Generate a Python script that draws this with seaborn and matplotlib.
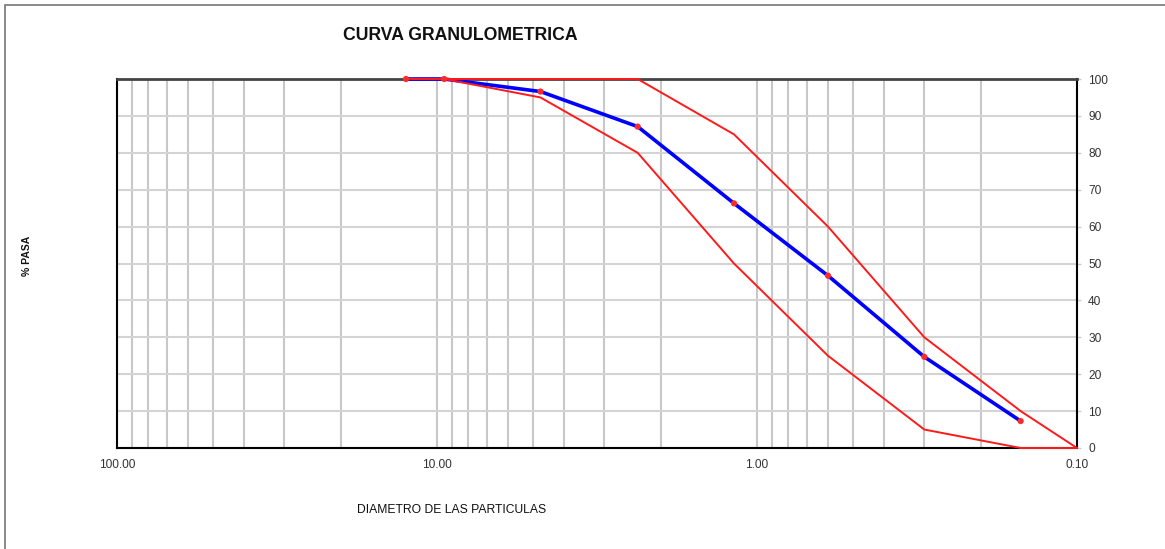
import numpy as np
import pandas as pd
import matplotlib
matplotlib.use("Agg")
import matplotlib.pyplot as plt
import seaborn as sns
from matplotlib.patches import Rectangle

# Datos de la curva granulometrica
sieve_mm = [12.5, 9.5, 4.75, 2.36, 1.18, 0.6, 0.3, 0.15]
pct_pasa = [100, 100, 96.6, 87.1, 66.3, 46.7, 24.7, 7.3]

# Limites del huso granulometrico
env_mm = [12.5, 9.5, 4.75, 2.36, 1.18, 0.6, 0.3, 0.15, 0.1]
env_lower = [100, 100, 95, 80, 50, 25, 5, 0, 0]
env_upper = [100, 100, 100, 100, 85, 60, 30, 10, 0]

x_ticks = [100, 10, 1, 0.1]
x_tick_labels = ["100.00", "10.00", "1.00", "0.10"]
y_ticks = list(range(0, 101, 10))

sns.set_theme(style="white")
plt.rcParams['font.family'] = ['Liberation Sans', 'DejaVu Sans']

curve = pd.DataFrame({"d": sieve_mm, "pasa": pct_pasa})
env = pd.DataFrame({"d": env_mm, "lo": env_lower, "hi": env_upper})

fig = plt.figure(figsize=(11.65, 5.49), dpi=100)
ax = fig.add_axes([117/1165, 101/549, 960/1165, 369/549])

ax.set_xscale("log")
ax.set_xlim(100, 0.1)
ax.set_ylim(0, 100)

# grid
ax.grid(True, which="both", axis="x", color="#c8c8c8", lw=1.5)
ax.grid(True, which="major", axis="y", color="#d4d4d4", lw=1.5)
ax.set_axisbelow(True)

sns.lineplot(data=curve, x="d", y="pasa", ax=ax, sort=False, color="#0000ff",
             lw=2.6, zorder=3, clip_on=False)
sns.lineplot(data=env, x="d", y="lo", ax=ax, sort=False, color="#ff1a1a",
             lw=1.4, zorder=4, clip_on=False)
sns.lineplot(data=env, x="d", y="hi", ax=ax, sort=False, color="#ff1a1a",
             lw=1.4, zorder=4, clip_on=False)
sns.scatterplot(data=curve, x="d", y="pasa", ax=ax, color="#ff2a2a", s=20,
                edgecolor="none", zorder=5, clip_on=False)

ax.set_xticks(x_ticks)
ax.set_xticklabels(x_tick_labels)
ax.xaxis.set_minor_formatter(matplotlib.ticker.NullFormatter())
ax.tick_params(axis="x", which="both", length=0, pad=8, labelsize=8.6, colors="#333333")

ax.yaxis.tick_right()
ax.set_yticks(y_ticks)
ax.tick_params(axis="y", which="both", direction="out", length=3, width=1,
               color="#cccccc", pad=5, labelsize=8.6, labelcolor="#333333")

for side in ["left", "right", "bottom"]:
    ax.spines[side].set_color("black")
    ax.spines[side].set_linewidth(1.5)
ax.spines["top"].set_color("#444444")
ax.spines["top"].set_linewidth(2)

ax.set_xlabel("")
ax.set_ylabel("")

fig.text(460/1165, 1 - 36/549, "CURVA GRANULOMETRICA", ha="center", va="center",
         fontsize=12.7, fontweight="bold", color="#111111")
fig.text(452/1165, 1 - 510/549, "DIAMETRO DE LAS PARTICULAS", ha="center", va="center",
         fontsize=8.7, color="#111111")
fig.text(27/1165, 1 - 256/549, "% PASA", ha="center", va="center", rotation=90,
         fontsize=7.5, fontweight="bold", color="#111111")

# marco de la figura
fig.patches.append(Rectangle((5/1165, -0.1), 1.2, 1.1 - 5/549, transform=fig.transFigure,
                             fill=False, edgecolor="#777777", lw=1.2))

fig.savefig("out.png", dpi=100, facecolor="white")
